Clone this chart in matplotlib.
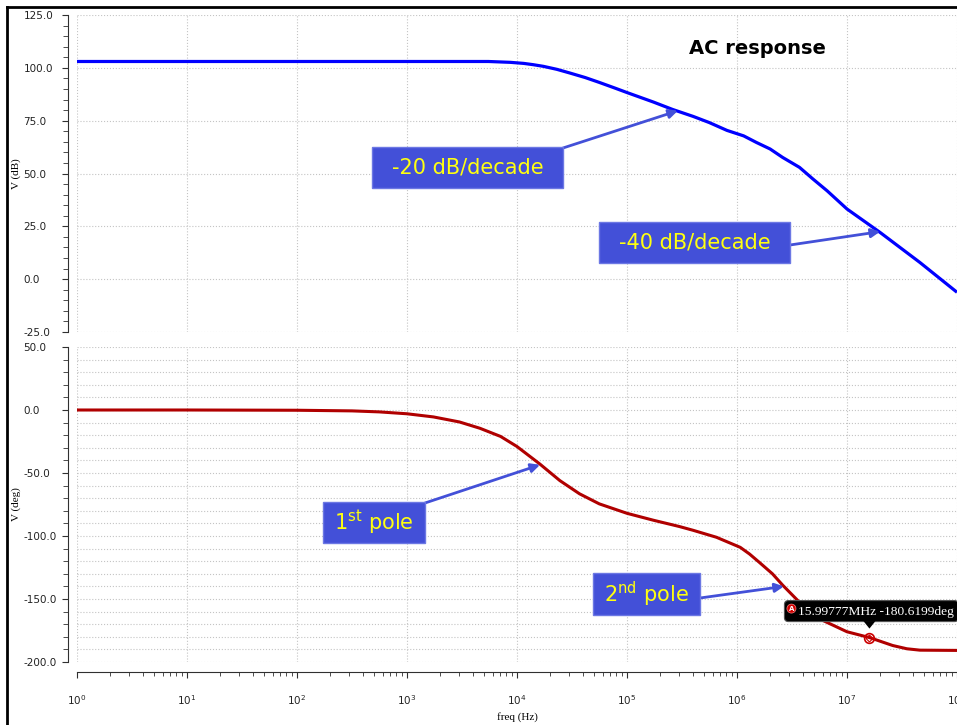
import numpy as np
import matplotlib
matplotlib.use('Agg')
import matplotlib.pyplot as plt
from matplotlib.ticker import MultipleLocator, LogLocator, NullFormatter
from matplotlib.patches import Rectangle, FancyBboxPatch, Polygon, Circle
from matplotlib.lines import Line2D
from matplotlib.transforms import IdentityTransform

W, H = 957, 725
plt.rcParams['axes.unicode_minus'] = False
plt.rcParams['mathtext.fontset'] = 'dejavusans'

# magnitude (dB)
freq_gain = [1, 10, 100, 1000, 3000, 5500, 8700, 11500, 14000, 17400, 23000, 30000,
             41700, 56000, 76000, 1.0e5, 1.74e5, 2.6e5, 4.0e5, 5.6e5, 8.1e5, 1.15e6,
             1.5e6, 2.0e6, 2.6e6, 3.7e6, 4.9e6, 6.6e6, 1.0e7, 2.0e7, 4.6e7, 1.0e8]
gain_db = [103.0, 103.0, 103.0, 103.0, 103.0, 103.0, 102.6, 102.1, 101.5, 100.7, 99.3, 97.6,
           95.4, 93.1, 90.6, 88.3, 83.8, 80.3, 77.0, 74.1, 70.4, 67.8,
           64.7, 61.6, 57.6, 52.9, 47.4, 41.8, 33.2, 22.1, 7.9, -6.2]

# phase (deg)
freq_phase = [1, 10, 100, 316, 560, 1000, 1740, 3000, 4600, 7100, 1.0e4, 1.62e4,
              2.45e4, 3.7e4, 5.6e4, 1.0e5, 1.74e5, 3.0e5, 4.0e5, 6.5e5, 1.07e6,
              1.3e6, 1.6e6, 2.1e6, 2.6e6, 3.7e6, 5.6e6, 1.0e7, 1.6e7, 2.6e7,
              3.5e7, 4.6e7, 1.0e8]
phase_deg = [0, 0, -0.2, -0.7, -1.5, -3.0, -5.5, -9.5, -14.5, -21.0, -29.0, -43.0,
             -56.0, -66.5, -74.5, -82.0, -87.5, -92.5, -95.5, -101.0, -109.0,
             -114.3, -121.0, -130.0, -139.0, -152.6, -165.7, -176.0, -180.6, -186.9,
             -189.5, -190.6, -190.8]

freq_ticks = [1, 10, 100, 1e3, 1e4, 1e5, 1e6, 1e7, 1e8]
freq_labels = [r'$10^{%d}$' % k for k in range(9)]
gain_ticks = [125, 100, 75, 50, 25, 0, -25]
phase_ticks = [50, 0, -50, -100, -150, -200]

marker_freq = 15.99777e6
marker_phase = -180.6199

# annotation boxes: text, box (left, top, right, bottom in px), arrow start px, arrow target (freq, value)
notes_top = [
    ('-20 dB/decade', (372, 147, 563, 188), (563, 148), (2.9e5, 79.7)),
    ('-40 dB/decade', (599, 222, 790, 263), (790, 245), (2.0e7, 22.5)),
]
notes_bot = [
    (r'1$^{\mathrm{st}}$ pole', (323, 502, 425, 543), (425, 503), (1.62e4, -43.5)),
    (r'2$^{\mathrm{nd}}$ pole', (593, 573, 700, 615), (700, 598), (2.67e6, -140.0)),
]

box_blue = '#4350D8'
grid_kw = dict(color='#c4c4c4', ls=':', lw=0.8)
axis_col = '#303030'

fig = plt.figure(figsize=(W / 100, H / 100), dpi=100)
ax1 = fig.add_axes([77 / W, 1 - 332 / H, 880 / W, 317 / H])
ax2 = fig.add_axes([77 / W, 1 - 662 / H, 880 / W, 315 / H])

ax1.plot(freq_gain, gain_db, color='#0000FF', lw=2.3, solid_capstyle='butt', solid_joinstyle='round')
ax2.plot(freq_phase, phase_deg, color='#B00000', lw=2.2, solid_capstyle='butt', solid_joinstyle='round')

for ax, ticks, minor in ((ax1, gain_ticks, 5), (ax2, phase_ticks, 10)):
    ax.set_xscale('log')
    ax.set_xlim(1, 1e8)
    ax.set_ylim(min(ticks), max(ticks))
    for s in ['top', 'right', 'bottom']:
        ax.spines[s].set_visible(False)
    ax.spines['left'].set_position(('outward', 6.5))
    ax.spines['left'].set_color(axis_col)
    ax.set_yticks(ticks)
    ax.set_yticklabels(['%.1f' % t for t in ticks], ha='left')
    ax.yaxis.set_minor_locator(MultipleLocator(minor))
    ax.tick_params(axis='y', which='both', direction='out', color=axis_col,
                   labelsize=7.5, pad=28, labelcolor='#222222')
    ax.tick_params(axis='y', which='major', length=4)
    ax.tick_params(axis='y', which='minor', length=3.5)
    ax.set_xticks(freq_ticks)
    ax.set_xticklabels(freq_labels)
    ax.set_axisbelow(True)
    ax.grid(which='major', **grid_kw)

ax1.tick_params(axis='x', which='both', bottom=False, labelbottom=False)
ax2.grid(which='minor', axis='y', **grid_kw)

ax2.spines['bottom'].set_visible(True)
ax2.spines['bottom'].set_position(('outward', 7.2))
ax2.spines['bottom'].set_color(axis_col)
ax2.xaxis.set_minor_locator(LogLocator(base=10, subs=np.arange(2, 10), numticks=20))
ax2.xaxis.set_minor_formatter(NullFormatter())
ax2.tick_params(axis='x', which='both', direction='out', color=axis_col, labelsize=7.5,
                pad=11, labelcolor='#222222')
ax2.tick_params(axis='x', which='major', length=4)
ax2.tick_params(axis='x', which='minor', length=3)

ax1.set_ylabel('V (dB)', family='Liberation Serif', fontsize=8)
ax2.set_ylabel('V (deg)', family='Liberation Serif', fontsize=8)
ax1.yaxis.set_label_coords((21 - 77) / 880, 0.5)
ax2.yaxis.set_label_coords((21 - 77) / 880, 0.5)
fig.text(517 / W, 1 - 717 / H, 'freq (Hz)', ha='center', va='center',
         family='Liberation Serif', fontsize=8)

fig.text(757 / W, 1 - 48 / H, 'AC response', ha='center', va='center',
         fontsize=14, fontweight='bold', color='black')

# blue label boxes with arrows
for ax, notes in ((ax1, notes_top), (ax2, notes_bot)):
    for text, (x0, y0, x1, y1), start, target in notes:
        ax.annotate('', xy=target, xycoords='data',
                    xytext=(start[0], H - start[1]), textcoords='figure pixels',
                    annotation_clip=False,
                    arrowprops=dict(arrowstyle='-|>', color=box_blue, lw=2.0,
                                    mutation_scale=13, shrinkA=0, shrinkB=0))
        fig.add_artist(Rectangle((x0, H - y1), x1 - x0, y1 - y0, transform=IdentityTransform(),
                                 facecolor=box_blue, edgecolor='#6C78E4', lw=1, zorder=5))
        fig.text((x0 + x1) / 2 / W, 1 - (y0 + y1) / 2 / H, text, ha='center', va='center',
                 color='#FFFF10', fontsize=15, zorder=6)

# marker and tooltip
ax2.plot([marker_freq], [marker_phase], marker='o', ms=7, mfc='none', mec='#CC0000', mew=1.2)
ax2.plot([marker_freq], [marker_phase], marker='D', ms=3.5, mfc='none', mec='#CC0000', mew=0.8)
fig.canvas.draw()
mx, my = ax2.transData.transform((marker_freq, marker_phase))
tip = FancyBboxPatch((mx - 85, my + 16), 174, 21,
                     boxstyle='round,pad=0,rounding_size=4',
                     transform=IdentityTransform(), facecolor='black', edgecolor='#555555',
                     lw=0.8, zorder=7)
fig.add_artist(tip)
fig.add_artist(Polygon([[mx - 6, my + 16.5], [mx + 6, my + 16.5], [mx, my + 9]], closed=True,
                       transform=IdentityTransform(), facecolor='black', edgecolor='none', zorder=7))
fig.add_artist(Circle((mx - 78, my + 29), 4.5, transform=IdentityTransform(),
                      facecolor='#D00000', edgecolor='#ff8080', lw=0.5, zorder=8))
fig.text((mx - 78) / W, (my + 29) / H, 'A', ha='center', va='center', color='white',
         fontsize=5, fontweight='bold', zorder=9)
fig.text((mx - 71) / W, (my + 25.5) / H, '%.5fMHz %.4fdeg' % (marker_freq / 1e6, marker_phase),
         ha='left', va='center', color='white', family='Liberation Serif', fontsize=9.7, zorder=9)

# outer frame (top and left)
fig.add_artist(Line2D([7 / W, 1], [1 - 7 / H, 1 - 7 / H], transform=fig.transFigure,
                      color='black', lw=2))
fig.add_artist(Line2D([7 / W, 7 / W], [0, 1 - 7 / H], transform=fig.transFigure,
                      color='black', lw=2))

fig.savefig('out.png', dpi=100)
